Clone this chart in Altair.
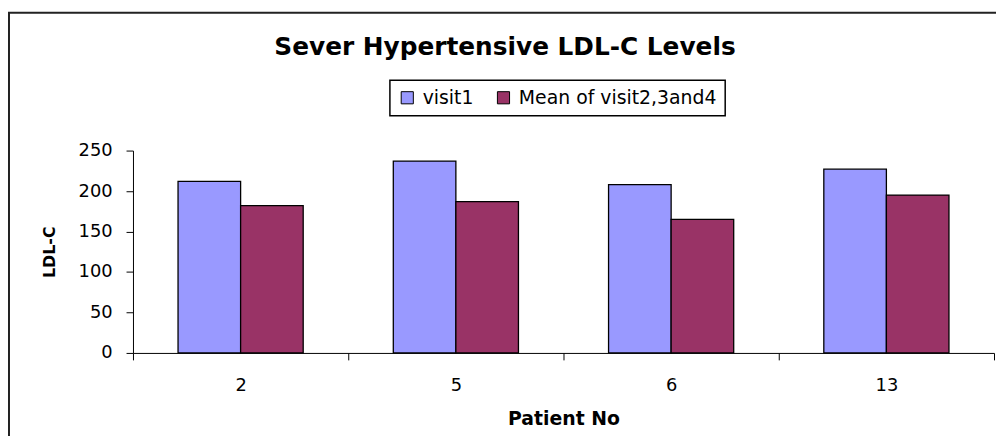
import altair as alt
import pandas as pd

patients = ["2", "5", "6", "13"]
visit1 = [212, 237, 208, 227]
mean_234 = [182, 187, 165, 195]
series_names = ["visit1", "Mean of visit2,3and4"]
colors = ["#9999FF", "#993366"]
y_ticks = [0, 50, 100, 150, 200, 250]
chart_title = "Sever Hypertensive LDL-C Levels"

rows = []
for p, a, b in zip(patients, visit1, mean_234):
    rows.append({"patient": p, "series": series_names[0], "value": a})
    rows.append({"patient": p, "series": series_names[1], "value": b})
df = pd.DataFrame(rows)

FONT = "DejaVu Sans"

frame = alt.Chart(pd.DataFrame({"k": [0]})).mark_rect(
    fill="transparent", stroke="#222222", strokeWidth=2
).encode(
    x=alt.value(-125), x2=alt.value(1100), y=alt.value(-139), y2=alt.value(500)
)

bars = alt.Chart(df).mark_bar(stroke="black", strokeWidth=1.3).encode(
    x=alt.X(
        "patient:N",
        sort=patients,
        scale=alt.Scale(paddingInner=0, paddingOuter=0),
        axis=alt.Axis(
            title="Patient No",
            labelAngle=0,
            tickBand="extent",
            tickSize=7,
            labelPadding=17,
            labelFont=FONT,
            labelFontSize=18,
            labelColor="black",
            domainColor="black",
            tickColor="black",
            titleFont=FONT,
            titleFontSize=19,
            titleFontWeight="bold",
            titleColor="black",
            titleY=66,
            titleBaseline="middle",
        ),
    ),
    xOffset=alt.XOffset(
        "series:N",
        sort=series_names,
        scale=alt.Scale(domain=series_names, paddingInner=0, paddingOuter=0.72),
    ),
    y=alt.Y(
        "value:Q",
        scale=alt.Scale(domain=[0, 250], nice=False),
        axis=alt.Axis(
            values=y_ticks,
            title="LDL-C",
            grid=False,
            tickSize=7,
            labelPadding=14,
            labelFont=FONT,
            labelFontSize=18,
            labelColor="black",
            domainColor="black",
            tickColor="black",
            titleFont=FONT,
            titleFontSize=16,
            titleFontWeight="bold",
            titleColor="black",
            titleAngle=270,
            titleX=-84,
            titleY=102,
            titleAlign="center",
            titleBaseline="middle",
        ),
    ),
    color=alt.Color(
        "series:N",
        sort=series_names,
        scale=alt.Scale(domain=series_names, range=colors),
        title=None,
        legend=alt.Legend(
            orient="none",
            legendX=259,
            legendY=-71,
            direction="horizontal",
            symbolType="square",
            symbolSize=150,
            symbolStrokeColor="black",
            symbolStrokeWidth=1,
            labelFont=FONT,
            labelFontSize=19,
            labelColor="black",
            labelLimit=0,
            labelOffset=6,
            columnPadding=20,
            padding=8,
            strokeColor="black",
        ),
    ),
)

title = alt.Chart(pd.DataFrame({"t": [chart_title]})).mark_text(
    font=FONT, fontSize=25, fontWeight="bold", align="center",
    baseline="alphabetic", color="black"
).encode(text="t:N", x=alt.value(375), y=alt.value(-96))

chart = alt.layer(frame, bars, title).properties(
    width=868,
    height=204,
    autosize=alt.AutoSizeParams(type="none"),
    padding={"left": 126, "top": 142, "right": 2, "bottom": 82},
    background="white",
).configure_view(strokeWidth=0).configure_legend(strokeWidth=1.5)

chart.save("out.html", embed_options={"renderer": "svg", "actions": False})
